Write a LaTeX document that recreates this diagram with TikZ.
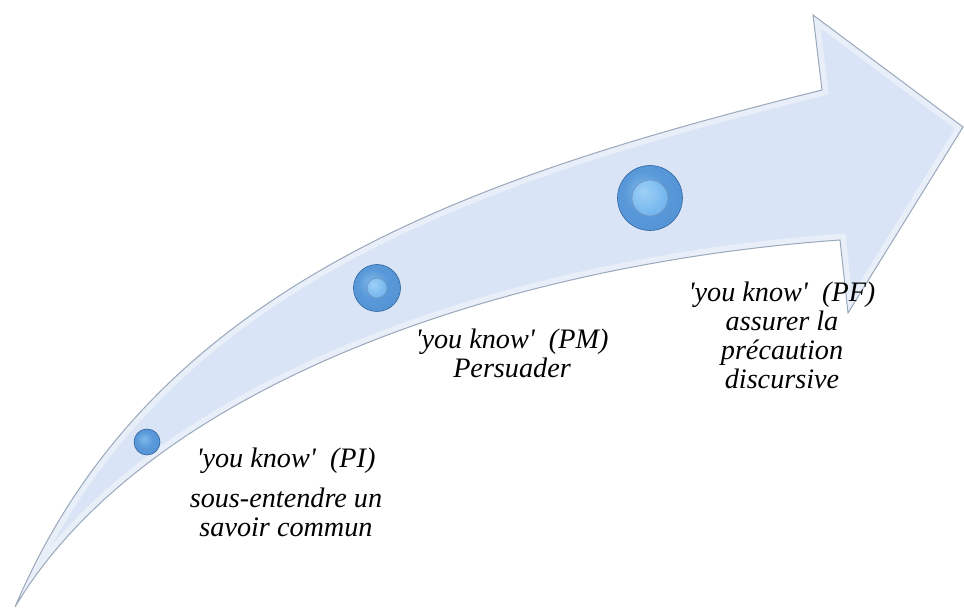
\documentclass[tikz,border=0pt]{standalone}
\usepackage{fontspec}
\setmainfont{Liberation Serif}
\usetikzlibrary{positioning}
\definecolor{arrowfill}{RGB}{217,229,246}
\definecolor{arrowrim}{RGB}{155,168,186}
\definecolor{knobrim}{RGB}{52,100,158}
\pgfdeclareradialshading{knob}{\pgfpoint{-6bp}{6bp}}{%
  rgb(0bp)=(0.50,0.72,0.92); rgb(16bp)=(0.35,0.60,0.85);
  rgb(36bp)=(0.32,0.57,0.83); rgb(46bp)=(0.23,0.44,0.70);
  rgb(60bp)=(0.20,0.40,0.64)}
\pgfdeclareradialshading{cap}{\pgfpoint{-10bp}{10bp}}{%
  rgb(0bp)=(0.62,0.82,0.97); rgb(30bp)=(0.45,0.71,0.93);
  rgb(48bp)=(0.38,0.64,0.88); rgb(56bp)=(0.27,0.50,0.77);
  rgb(70bp)=(0.27,0.50,0.77)}
\tikzset{
  txt/.style={font=\itshape\fontsize{14.1pt}{14.5pt}\selectfont, align=center, inner sep=0pt, anchor=base},
  dot/.style={circle, inner sep=0pt, shading=knob, draw=knobrim, line width=0.3pt},
  dotcap/.style={circle, inner sep=0pt, shading=cap, draw=knobrim!70!white, line width=0.3pt},
}
\newcommand{\yk}{\textquotesingle you know\textquotesingle}
\def\arrowpath{(15,607) .. controls (152,284) and (472,177) .. (822,90)
  -- (813,15) -- (963,127) -- (848,313) -- (840,240)
  .. controls (490,265) and (143,392) .. cycle}
\begin{document}
\begin{tikzpicture}[x=0.5pt, y=-0.5pt]
    \useasboundingbox (0,0) rectangle (964,608);
    % the curved arrow
    \fill[arrowfill] \arrowpath;
    \begin{scope}
        \clip \arrowpath;
        \draw[white, opacity=0.4, line width=6pt] \arrowpath;
    \end{scope}
    \draw[arrowrim, line width=0.5pt] \arrowpath;
    % the three steps
    \node[dot, minimum size=13pt] (bPI) at (147,442) {};
    \node[dot, minimum size=23.5pt] (bPM) at (377,288) {};
    \node[dotcap, minimum size=10pt] (cPM) at (bPM) {};
    \node[dot, minimum size=32.5pt] (bPF) at (650,198) {};
    \node[dotcap, minimum size=18pt] (cPF) at (bPF) {};
    \node[txt] (PI) at (286,537) {\yk\ \ (PI)\\[5.5pt] sous-entendre un\\ savoir commun};
    \node[txt] (PM) at (512,378) {\yk\ \ (PM)\\ Persuader};
    \node[txt] (PF) at (782,389) {\yk\ \ (PF)\\ assurer la\\ précaution\\ discursive};
\end{tikzpicture}
\end{document}
